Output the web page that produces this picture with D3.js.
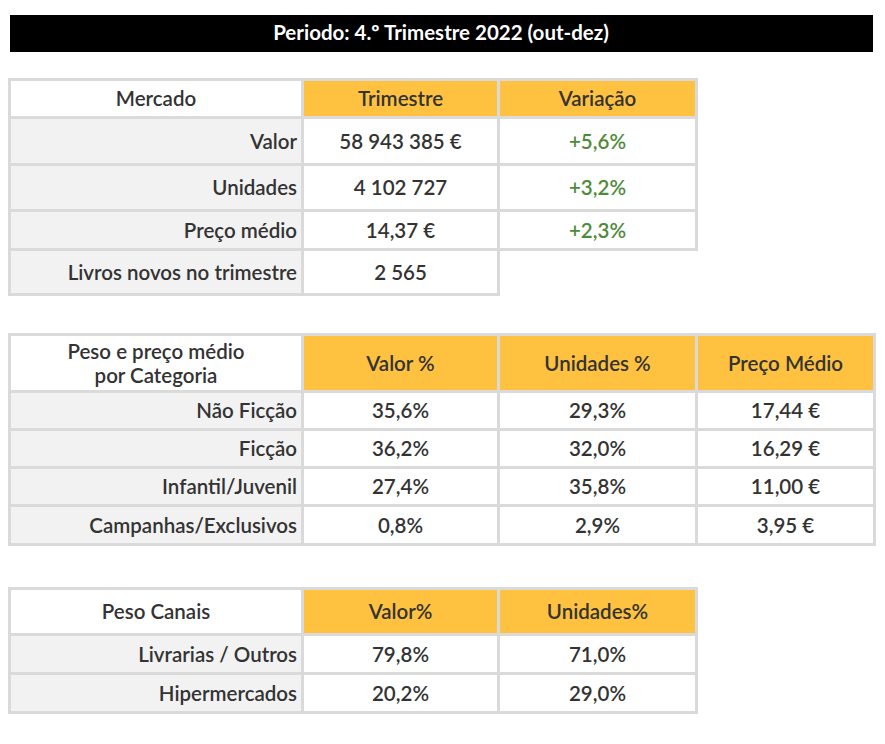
<!DOCTYPE html>
<html><head><meta charset="utf-8">
<script src="https://cdn.jsdelivr.net/npm/d3@7"></script>
<style>body{margin:0;background:#fff} text{font-family:Lato,"Open Sans",sans-serif;font-size:20.5px;font-weight:600;fill:#333}</style>
</head><body>
<script>
var title = "Periodo: 4.º Trimestre 2022 (out-dez)";

// mercado
var mercadoHeader = ["Mercado", "Trimestre", "Variação"];
var mercadoLabels = ["Valor", "Unidades", "Preço médio", "Livros novos no trimestre"];
var mercadoTrimestre = ["58 943 385 €", "4 102 727", "14,37 €", "2 565"];
var mercadoVariacao = ["+5,6%", "+3,2%", "+2,3%", null];

// categorias
var catHeader = ["Peso e preço médio\npor Categoria", "Valor %", "Unidades %", "Preço Médio"];
var catLabels = ["Não Ficção", "Ficção", "Infantil/Juvenil", "Campanhas/Exclusivos"];
var catValor = ["35,6%", "36,2%", "27,4%", "0,8%"];
var catUnidades = ["29,3%", "32,0%", "35,8%", "2,9%"];
var catPreco = ["17,44 €", "16,29 €", "11,00 €", "3,95 €"];

// canais
var canaisHeader = ["Peso Canais", "Valor%", "Unidades%"];
var canaisLabels = ["Livrarias / Outros", "Hipermercados"];
var canaisValor = ["79,8%", "20,2%"];
var canaisUnidades = ["71,0%", "29,0%"];

var svg = d3.select("body").append("svg").attr("width", 885).attr("height", 744);

svg.append("rect").attr("x", 10).attr("y", 15).attr("width", 863).attr("height", 37).attr("fill", "#000");
svg.append("text").attr("x", 441).attr("y", 40).attr("text-anchor", "middle")
  .style("fill", "#fff").style("font-weight", 700).style("font-size", "20.5px").text(title);

function drawTable(cols, rows, header, labels, columns, colors) {
  var g = svg.append("g");
  header.forEach(function(h, i) {
    cell(g, cols[i], cols[i+1], rows[0], rows[1], i == 0 ? "#fff" : "#ffc240", h, "middle", null);
  });
  labels.forEach(function(l, r) {
    cell(g, cols[0], cols[1], rows[r+1], rows[r+2], "#f2f2f2", l, "end", null);
    columns.forEach(function(c, j) {
      if (c[r] == null) return;
      cell(g, cols[j+1], cols[j+2], rows[r+1], rows[r+2], "#fff", c[r], "middle", colors[j]);
    });
  });
}

function cell(g, x0, x1, y0, y1, fill, txt, anchor, color) {
  g.append("rect").attr("x", x0).attr("y", y0).attr("width", x1 - x0).attr("height", y1 - y0)
    .attr("fill", "#dadada");
  g.append("rect").attr("x", x0 + 3).attr("y", y0 + 3).attr("width", x1 - x0 - 3).attr("height", y1 - y0 - 3)
    .attr("fill", fill);
  var lines = txt.split("\n");
  var cy = (y0 + y1) / 2 + 2;
  var t = g.append("text")
    .attr("x", anchor == "end" ? x1 - 4 : (x0 + x1) / 2 + 1.5)
    .attr("text-anchor", anchor);
  if (color) t.style("fill", color);
  lines.forEach(function(s, i) {
    t.append("tspan").attr("x", t.attr("x"))
      .attr("y", cy + 7 + (i - (lines.length - 1) / 2) * 24).text(s);
  });
}

var green = "#4f8a3b";
drawTable([8, 301, 497, 695], [78, 116, 163, 209, 248, 293], mercadoHeader, mercadoLabels,
  [mercadoTrimestre, mercadoVariacao], [null, green]);
svg.append("rect").attr("x", 8).attr("y", 293).attr("width", 492).attr("height", 3).attr("fill", "#dadada");
svg.append("rect").attr("x", 695).attr("y", 78).attr("width", 3).attr("height", 173).attr("fill", "#dadada");
svg.append("rect").attr("x", 497).attr("y", 248).attr("width", 198).attr("height", 3).attr("fill", "#dadada");
svg.append("rect").attr("x", 497).attr("y", 248).attr("width", 3).attr("height", 48).attr("fill", "#dadada");

drawTable([8, 301, 497, 695, 873], [333, 390, 428, 466, 504, 543], catHeader, catLabels,
  [catValor, catUnidades, catPreco], [null, null, null]);
svg.append("rect").attr("x", 8).attr("y", 543).attr("width", 868).attr("height", 3).attr("fill", "#dadada");
svg.append("rect").attr("x", 873).attr("y", 333).attr("width", 3).attr("height", 213).attr("fill", "#dadada");

drawTable([8, 301, 497, 695], [587, 633, 672, 711], canaisHeader, canaisLabels,
  [canaisValor, canaisUnidades], [null, null]);
svg.append("rect").attr("x", 8).attr("y", 711).attr("width", 690).attr("height", 3).attr("fill", "#dadada");
svg.append("rect").attr("x", 695).attr("y", 587).attr("width", 3).attr("height", 127).attr("fill", "#dadada");
</script>
</body></html>
